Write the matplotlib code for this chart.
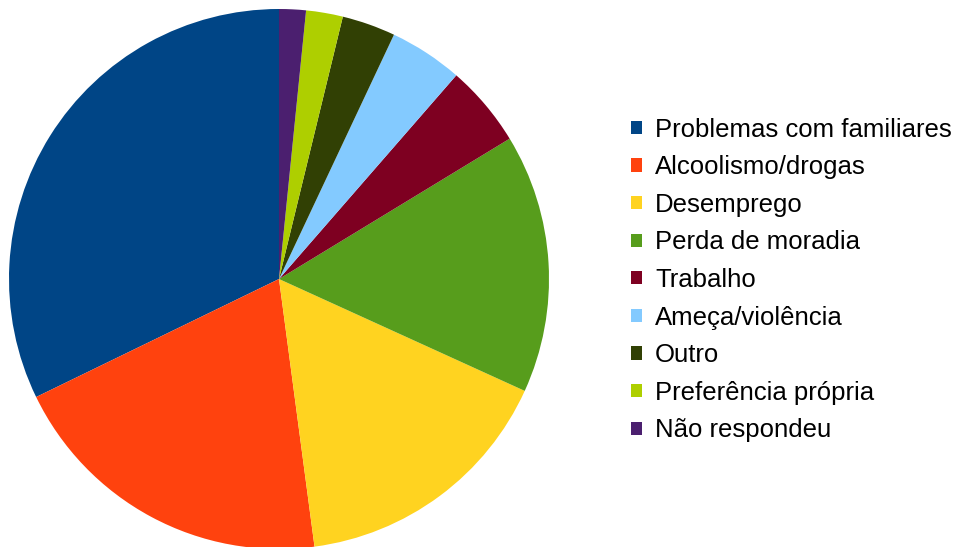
import matplotlib.pyplot as plt
from matplotlib.patches import Patch

plt.rcParams['font.family'] = ['Liberation Sans', 'DejaVu Sans']

labels = ['Problemas com familiares', 'Alcoolismo/drogas', 'Desemprego',
          'Perda de moradia', 'Trabalho', 'Ameça/violência', 'Outro',
          'Preferência própria', 'Não respondeu']
values = [32.2, 19.9, 16.1, 15.5, 4.9, 4.4, 3.2, 2.2, 1.6]
colors = ['#004586', '#ff420e', '#ffd320', '#579d1c', '#7e0021',
          '#83caff', '#314004', '#aecf00', '#4b1f6f']

W, H = 957, 547
fig = plt.figure(figsize=(W / 100, H / 100), dpi=100)

# pie centre (279, 279) px, radius 270 px
cx, cy, r = 279, 279, 270
ax = fig.add_axes([(cx - r) / W, (H - cy - r) / H, 2 * r / W, 2 * r / H])
ax.pie(values, colors=colors, startangle=90, counterclock=True,
       radius=1, wedgeprops=dict(linewidth=0))
ax.set_xlim(-1, 1)
ax.set_ylim(-1, 1)
ax.set_aspect('equal')
ax.axis('off')

handles = [Patch(facecolor=c, edgecolor='none') for c in colors]
fig.legend(handles, labels, loc='center left',
           bbox_to_anchor=(631 / W, 1 - 280 / H),
           frameon=False, fontsize=18.5, borderpad=0, borderaxespad=0,
           handlelength=0.42, handleheight=0.42, handletextpad=0.52,
           labelspacing=0.53)

fig.savefig('out.png', dpi=100)
